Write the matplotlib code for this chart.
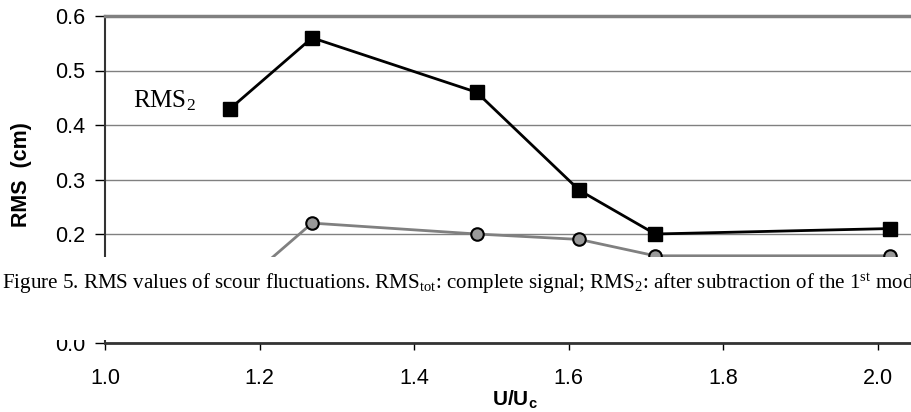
import matplotlib
matplotlib.use('Agg')
import matplotlib.pyplot as plt
from matplotlib.patches import Rectangle

# data
u_ratio = [1.162, 1.268, 1.481, 1.614, 1.712, 2.016]
rms_2 = [0.43, 0.56, 0.46, 0.28, 0.20, 0.21]
rms_tot = [0.09, 0.22, 0.20, 0.19, 0.16, 0.16]
x_ticks = [1.0, 1.2, 1.4, 1.6, 1.8, 2.0]
y_ticks = [0.0, 0.1, 0.2, 0.3, 0.4, 0.5, 0.6]

caption = ("Figure 5. RMS values of scour fluctuations. RMS$_{\\mathrm{tot}}$: "
           "complete signal; RMS$_2$: after subtraction of the 1$^{\\mathrm{st}}$ mode")

plt.rcParams['font.family'] = ['Liberation Sans', 'DejaVu Sans']
plt.rcParams['mathtext.fontset'] = 'custom'
plt.rcParams['mathtext.rm'] = 'Liberation Serif'
plt.rcParams['mathtext.it'] = 'Liberation Serif:italic'
plt.rcParams['mathtext.bf'] = 'Liberation Sans:bold'

W, H = 911, 412
fig = plt.figure(figsize=(W / 100, H / 100), dpi=100)
ax = fig.add_axes([105 / W, 69 / H, 1 - 105 / W, 327 / H])

ax.plot(u_ratio, rms_tot, color='#808080', lw=2, marker='o', ms=9,
        mfc='#999999', mec='black', mew=1.5, zorder=3)
ax.plot(u_ratio, rms_2, color='black', lw=2, marker='s', ms=10,
        mfc='black', mec='black', zorder=4)

ax.set_xlim(1.0, 2.043)
ax.set_ylim(0.0, 0.6)
ax.set_xticks(x_ticks)
ax.set_yticks(y_ticks)
ax.set_xticklabels([f'{v:.1f}' for v in x_ticks], fontsize=15.5)
ax.set_yticklabels([f'{v:.1f}' for v in y_ticks], fontsize=15.5)
ax.tick_params(axis='x', direction='out', length=5, width=1, pad=13)
ax.tick_params(axis='y', direction='out', length=7, width=1, pad=7)

ax.grid(axis='y', color='#808080', lw=1)
ax.set_axisbelow(True)
ax.spines['right'].set_visible(False)
ax.spines['top'].set_color('#808080')
ax.spines['top'].set_linewidth(2.5)
ax.spines['left'].set_color('#333333')
ax.spines['left'].set_linewidth(1.5)
ax.spines['bottom'].set_color('#333333')
ax.spines['bottom'].set_linewidth(2)

ax.set_ylabel('RMS  (cm)', fontsize=15.5, fontweight='bold')
ax.yaxis.set_label_coords(-0.09, 0.514)
fig.text(515 / W, 7 / H, 'U/U$_\\mathbf{c}$', fontsize=15, fontweight='bold',
         ha='center', va='baseline')

ax.text(1.036, 0.445, 'RMS$_2$', fontsize=18, family='Liberation Serif',
        va='center', ha='left')

# caption band laid over the lower part of the chart
fig.patches.append(Rectangle((0, 72 / H), 1, 83 / H,
                             transform=fig.transFigure, facecolor='white',
                             edgecolor='none', zorder=10))
fig.text(0.002, 123 / H, caption, fontsize=15.1, family='Liberation Serif',
         va='baseline', ha='left', zorder=11)

fig.savefig('out.png', dpi=100)
